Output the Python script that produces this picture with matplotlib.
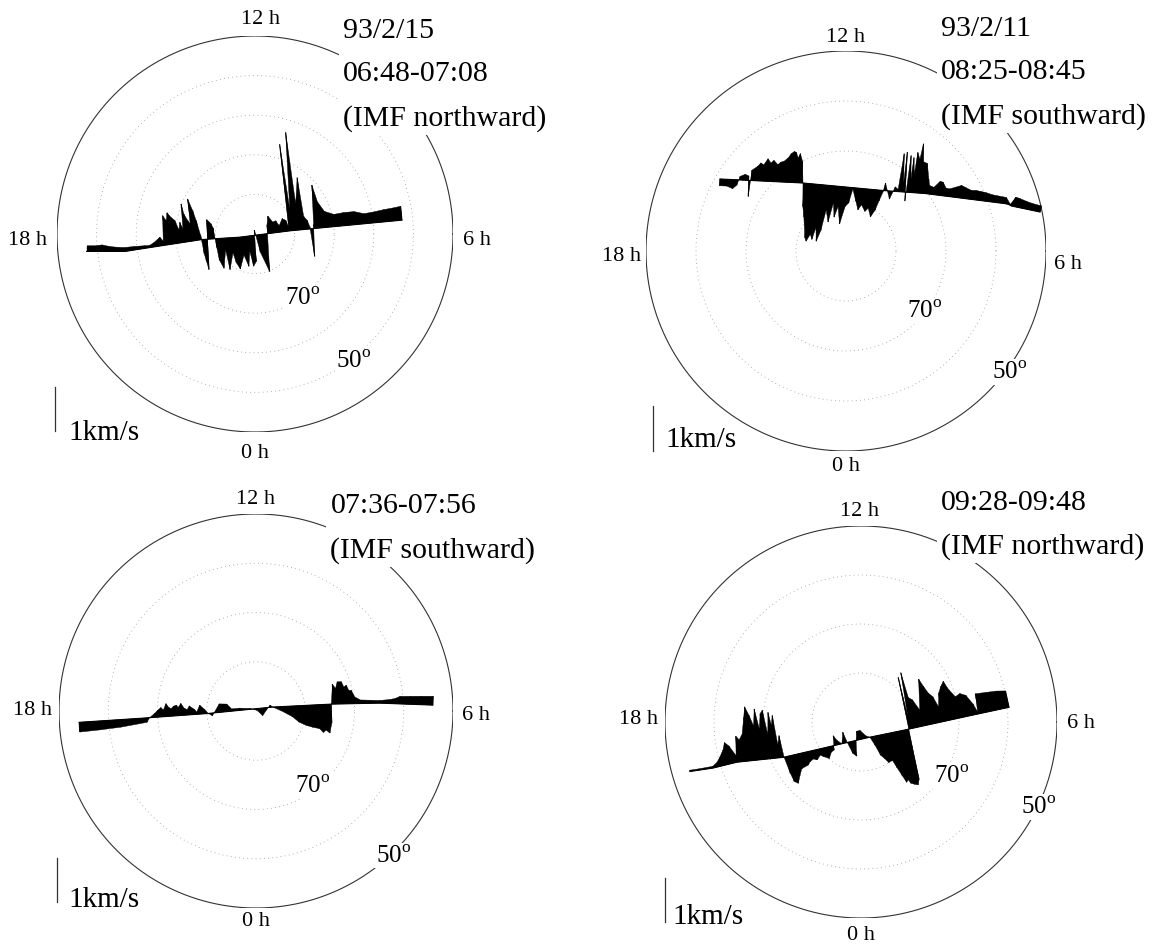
import numpy as np
import matplotlib
matplotlib.use('Agg')
import matplotlib.pyplot as plt
from matplotlib.collections import LineCollection

plt.rcParams['font.family'] = ['Liberation Serif', 'DejaVu Serif']
plt.rcParams['mathtext.fontset'] = 'custom'
plt.rcParams['mathtext.rm'] = 'Liberation Serif'

W, H = 1162, 945

# x: degrees from the pole towards 6 h, y: degrees towards 12 h, v: cross-track drift in km/s
# --- 93/2/15 06:48-07:08
p1_trk_x = [-42.5, -32.8, -24.5, -13.4, -3.8, 8.8, 37.1]
p1_trk_y = [-4.4, -4.4, -3.1, -1.4, -0.8, 0.8, 3.5]
p1_x = [-42.4, -40.4, -38.6, -37.1, -35.4, -32.8, -30.3, -27.8, -26.5, -25.3,
        -23.7, -23.0, -22.2, -21.5, -21.0, -20.2, -19.4, -18.7, -18.2, -17.7,
        -17.2, -16.9, -16.2, -15.7, -15.4, -14.6, -14.1, -13.6, -13.1, -12.6,
        -12.1, -11.9, -11.4, -10.9, -10.4, -9.8, -9.3, -8.3, -7.6, -6.8,
        -5.8, -5.1, -4.3, -3.3, -2.5, -1.8, -1.3, -0.5, 0.0, 0.8,
        2.5, 3.3, 3.8, 4.8, 5.6, 6.3, 7.3, 8.1, 8.6, 8.8,
        9.3, 10.1, 10.9, 11.9, 12.6, 13.4, 13.9, 14.4, 14.9, 15.4,
        16.4, 17.9, 20.2, 22.7, 25.3, 27.8, 30.3, 32.8, 35.4, 37.1]
p1_v = [0.13, 0.13, 0.15, 0.12, 0.10, 0.09, 0.08, 0.06, 0.05, 0.10,
        0.20, 0.10, 0.68, 0.55, 0.73, 0.61, 0.53, 0.30, 0.47, 0.30,
        0.88, 0.64, 0.48, 0.40, 0.97, 0.69, 0.45, 0.10, -0.33, -0.50,
        -0.70, 0.45, 0.40, 0.35, 0.25, -0.20, -0.50, -0.69, -0.27, -0.73,
        -0.35, -0.58, -0.73, -0.42, -0.69, -0.35, -0.70, -0.60, 0.12, -0.40,
        -0.87, 0.20, 0.40, 0.25, 0.27, 0.15, 0.30, 0.25, 0.10, 2.00,
        0.50, 2.26, 0.60, 1.20, 0.30, 0.20, 0.05, -0.64, 0.10, 1.00,
        0.60, 0.37, 0.28, 0.30, 0.30, 0.23, 0.25, 0.28, 0.30, 0.32]

# --- 93/2/11 08:25-08:45
p2_trk_x = [-25.2, -18.9, -8.6, 7.4, 15.8, 32.4, 33.1, 38.8]
p2_trk_y = [14.4, 14.1, 13.6, 12.1, 11.5, 9.4, 9.0, 7.8]
p2_x = [-25.2, -23.8, -22.6, -21.8, -21.2, -20.2, -19.5, -19.4, -19.1, -18.9,
        -17.8, -17.2, -16.6, -15.8, -15.2, -14.6, -13.8, -13.2, -12.6, -11.8,
        -11.2, -10.6, -10.2, -9.8, -9.4, -8.9, -8.6, -8.2, -7.8, -7.2,
        -6.9, -6.2, -5.8, -5.2, -4.9, -4.2, -3.5, -2.9, -2.2, -1.8,
        -1.2, -0.6, 0.2, 0.8, 1.4, 2.2, 2.8, 3.4, 4.2, 4.8,
        5.4, 6.2, 6.8, 7.4, 7.8, 8.8, 9.8, 10.4, 11.1, 11.4,
        11.7, 11.9, 12.5, 12.8, 13.1, 13.4, 13.8, 14.3, 14.8, 15.1,
        15.7, 16.2, 16.5, 17.4, 18.5, 19.1, 19.8, 20.5, 21.8, 22.8,
        23.8, 24.8, 25.8, 26.8, 27.8, 29.1, 30.5, 31.8, 32.8, 33.1,
        34.5, 35.8, 37.1, 38.8]
p2_v = [-0.15, -0.15, -0.20, -0.12, 0.08, 0.13, 0.10, -0.36, 0.00, 0.23,
        0.32, 0.40, 0.36, 0.50, 0.41, 0.47, 0.38, 0.44, 0.46, 0.54,
        0.64, 0.69, 0.67, 0.55, 0.65, 0.48, 0.00, -0.52, -0.75, -1.21,
        -1.28, -1.12, -1.23, -0.96, -1.26, -1.02, -0.55, -0.81, -0.38, -0.69,
        -0.45, -0.83, -0.43, -0.35, -0.03, -0.29, -0.48, -0.36, -0.50, -0.42,
        -0.61, -0.45, -0.24, -0.04, 0.17, -0.18, 0.10, 0.05, 0.85, 0.20,
        0.89, -0.20, 0.82, 0.30, 0.78, 0.40, 0.90, 0.75, 1.10, 0.70,
        0.67, 0.33, 0.19, 0.16, 0.31, 0.30, 0.18, 0.17, 0.23, 0.28,
        0.24, 0.20, 0.21, 0.20, 0.19, 0.16, 0.15, 0.14, 0.02, 0.22,
        0.20, 0.17, 0.15, 0.14]

# --- 07:36-07:56
p3_trk_x = [-35.9, -22.2, -9.7, 3.4, 15.3, 25.1, 35.9]
p3_trk_y = [-2.3, -1.4, -0.5, 0.8, 1.4, 1.6, 1.2]
p3_x = [-35.9, -31.7, -27.5, -22.2, -21.6, -20.5, -19.9, -19.2, -18.7, -18.1,
        -17.6, -17.1, -16.6, -16.0, -15.7, -15.1, -14.5, -13.9, -13.4, -12.4,
        -12.0, -11.3, -10.4, -9.7, -8.9, -7.3, -5.8, -4.9, -3.3, -1.2,
        0.2, 1.2, 2.1, 2.9, 3.4, 5.2, 7.3, 8.6, 10.0, 11.3,
        12.7, 13.4, 14.0, 14.7, 15.2, 15.3, 15.6, 16.2, 16.6, 17.4,
        17.9, 18.4, 18.9, 19.4, 20.1, 21.2, 23.2, 25.1, 27.2, 28.3,
        29.2, 31.3, 33.4, 35.9]
p3_v = [-0.22, -0.20, -0.17, -0.10, 0.00, 0.09, 0.15, 0.21, 0.15, 0.29,
        0.20, 0.17, 0.22, 0.24, 0.18, 0.27, 0.16, 0.12, 0.20, 0.11,
        0.05, 0.20, 0.10, 0.00, -0.06, 0.19, 0.17, 0.05, 0.05, 0.02,
        -0.04, -0.17, -0.05, 0.05, 0.00, -0.10, -0.24, -0.37, -0.45, -0.50,
        -0.54, -0.63, -0.58, -0.65, -0.43, 0.00, 0.45, 0.35, 0.50, 0.50,
        0.38, 0.42, 0.30, 0.30, 0.15, 0.08, 0.07, 0.06, 0.09, 0.12,
        0.17, 0.18, 0.19, 0.20]

# --- 09:28-09:48
p4_trk_x = [-34.9, -30.2, -25.3, -15.8, -6.3, 1.8, 8.6, 22.3, 30.2]
p4_trk_y = [-10.1, -9.4, -8.2, -7.2, -5.0, -3.1, -1.7, 1.3, 3.0]
p4_x = [-34.9, -32.9, -30.2, -29.2, -28.4, -27.4, -26.8, -26.1, -25.3, -25.0,
        -24.4, -23.7, -23.0, -22.6, -21.9, -21.2, -20.7, -20.1, -19.6, -19.1,
        -18.5, -18.0, -17.6, -17.2, -16.7, -16.2, -15.7, -15.2, -14.8, -14.1,
        -13.5, -12.8, -12.1, -11.4, -10.8, -10.1, -9.4, -8.6, -8.0, -7.0,
        -6.3, -5.7, -5.2, -4.7, -3.9, -3.2, -2.8, -2.2, -1.6, -1.0,
        -0.5, 0.2, 1.1, 1.8, 2.5, 3.2, 3.9, 4.5, 5.3, 5.9,
        6.6, 7.2, 7.6, 8.0, 8.6, 9.2, 9.6, 9.9, 10.1, 10.6,
        11.0, 11.7, 12.7, 13.8, 14.4, 15.1, 15.8, 16.5, 17.1, 17.8,
        18.5, 19.2, 20.2, 21.2, 22.3, 23.3, 23.9, 24.2, 26.3, 28.4,
        30.2]
p4_v = [0.03, 0.03, 0.04, 0.10, 0.20, 0.35, 0.50, 0.40, 0.15, 0.59,
        0.50, 0.61, 0.99, 1.23, 1.03, 0.78, 1.16, 0.70, 1.04, 1.11,
        0.55, 1.05, 0.75, 0.97, 0.30, 0.50, 0.00, -0.39, -0.59, -0.65,
        -0.50, -0.35, -0.32, -0.30, -0.23, -0.19, -0.23, -0.14, -0.19, -0.26,
        -0.13, -0.10, 0.22, 0.10, 0.00, 0.25, 0.00, -0.27, -0.35, 0.00,
        0.20, 0.20, 0.05, 0.00, -0.20, -0.45, -0.55, -0.65, -0.62, -0.80,
        -1.00, -1.17, -1.12, -1.21, -1.25, -1.28, -1.17, 1.20, 0.30, 1.29,
        0.70, 0.63, 0.37, 1.06, 0.88, 0.70, 0.60, 0.35, 0.65, 0.79,
        0.89, 0.68, 0.49, 0.54, 0.47, 0.25, 0.05, 0.46, 0.44, 0.42,
        0.38]

panels = [
    dict(trk_x=p1_trk_x, trk_y=p1_trk_y, x=p1_x, v=p1_v,
         cx=255, cy=235, r=198, rmax=50, kms=11,
         title='93/2/15\n06:48-07:08\n(IMF northward)', title_pos=(0.722, 0.904),
         h12=(0.515, 1.02), h0=(0.5, -0.028), h18=(-0.025, 0.487), h6=(1.025, 0.487),
         l70=(0.621, 0.338), l50=(0.75, 0.179), bar=(-0.005, 0.0025), unit=(0.028, 0.0)),
    dict(trk_x=p2_trk_x, trk_y=p2_trk_y, x=p2_x, v=p2_v,
         cx=846, cy=252, r=200, rmax=40, kms=9,
         title='93/2/11\n08:25-08:45\n(IMF southward)', title_pos=(0.7375, 0.9475),
         h12=(0.5, 1.012), h0=(0.5, -0.012), h18=(-0.012, 0.488), h6=(1.02, 0.468),
         l70=(0.6975, 0.35), l50=(0.91, 0.1975), bar=(0.0175, 0.0), unit=(0.0475, 0.03)),
    dict(trk_x=p3_trk_x, trk_y=p3_trk_y, x=p3_x, v=p3_v,
         cx=256, cy=712, r=197, rmax=40, kms=9,
         title='07:36-07:56\n(IMF southward)', title_pos=(0.689, 0.966),
         h12=(0.5, 1.015), h0=(0.5, -0.008), h18=(-0.018, 0.505), h6=(1.023, 0.492),
         l70=(0.644, 0.31), l50=(0.849, 0.133), bar=(-0.004, 0.015), unit=(0.024, 0.023)),
    dict(trk_x=p4_trk_x, trk_y=p4_trk_y, x=p4_x, v=p4_v,
         cx=861, cy=723, r=196, rmax=40, kms=9,
         title='09:28-09:48\n(IMF northward)', title_pos=(0.704, 1.005),
         h12=(0.495, 1.015), h0=(0.5, -0.018), h18=(-0.018, 0.508), h6=(1.025, 0.5),
         l70=(0.73, 0.362), l50=(0.954, 0.283), bar=(0.001, -0.01), unit=(0.02, 0.005)),
]


def draw_panel(fig, p):
    cx, cy, r, R = p['cx'], p['cy'], p['r'], p['rmax']
    ax = fig.add_axes([(cx - r) / W, 1 - (cy + r) / H, 2 * r / W, 2 * r / H])
    ax.set_xlim(-R, R)
    ax.set_ylim(-R, R)
    ax.axis('off')

    t = np.linspace(0, 2 * np.pi, 400)
    ax.plot(R * np.cos(t), R * np.sin(t), color='#333333', lw=0.8, zorder=1)
    for rr in range(10, R, 10):
        ax.plot(rr * np.cos(t), rr * np.sin(t), color='#9a9a9a', lw=0.6,
                ls=(0, (1, 4)), zorder=1)

    # drift vectors drawn perpendicular to the track
    x = np.array(p['x'])
    v = np.array(p['v'])
    ty = np.interp(x, p['trk_x'], p['trk_y'])
    slope = np.gradient(ty, x)
    nrm = np.hypot(1, slope)
    tipx = x + v * p['kms'] * (-slope / nrm)
    tipy = ty + v * p['kms'] * (1 / nrm)
    ax.fill(np.r_[tipx, x[::-1]], np.r_[tipy, ty[::-1]], color='black', lw=0.3, zorder=2)
    segs = np.stack([np.c_[x, ty], np.c_[tipx, tipy]], axis=1)
    ax.add_collection(LineCollection(segs, colors='black', linewidths=0.8, zorder=2))
    ax.plot(p['trk_x'], p['trk_y'], color='black', lw=0.8, zorder=2)

    tk = dict(transform=ax.transAxes, fontsize=16)
    ax.text(*p['h12'], '12 h', ha='center', va='bottom', **tk)
    ax.text(*p['h0'], '0 h', ha='center', va='top', **tk)
    ax.text(*p['h18'], '18 h', ha='right', va='center', **tk)
    ax.text(*p['h6'], '6 h', ha='left', va='center', **tk)

    wb = dict(facecolor='white', edgecolor='none', pad=1)
    ax.text(*p['l70'], r'70$^{\rm o}$', transform=ax.transAxes, fontsize=18,
            ha='center', va='center', bbox=wb, zorder=4)
    ax.text(*p['l50'], r'50$^{\rm o}$', transform=ax.transAxes, fontsize=18,
            ha='center', va='center', bbox=wb, zorder=4)

    ax.text(*p['title_pos'], p['title'], transform=ax.transAxes, fontsize=21.5,
            ha='left', va='center', linespacing=1.85,
            bbox=dict(facecolor='white', edgecolor='none', pad=3), zorder=5)

    # 1 km/s scale bar
    bx = (p['bar'][0] - 0.5) * 2 * R
    by = (p['bar'][1] - 0.5) * 2 * R
    ax.plot([bx, bx], [by, by + p['kms']], color='#333333', lw=0.9, clip_on=False)
    ax.text(*p['unit'], '1km/s', transform=ax.transAxes, fontsize=21,
            ha='left', va='center')


fig = plt.figure(figsize=(W / 100, H / 100), dpi=100)
fig.patch.set_facecolor('white')
for p in panels:
    draw_panel(fig, p)

fig.savefig('out.png', dpi=100, facecolor='white')
